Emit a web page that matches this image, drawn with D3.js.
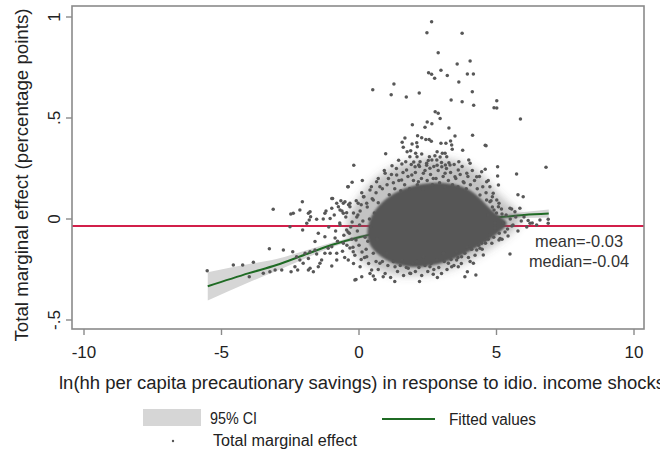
<!DOCTYPE html>
<html><head><meta charset="utf-8">
<script src="https://cdn.jsdelivr.net/npm/d3@7"></script>
<style>html,body{margin:0;padding:0;background:#fff;}svg{display:block;font-family:"Liberation Sans",Arial,sans-serif;}</style>
</head><body><svg id="c" width="660" height="453"></svg>
<script>
// ---- data ----
const xTicks = [-10, -5, 0, 5, 10];
const xTickLabels = ["-10", "-5", "0", "5", "10"];
const yTicks = [-0.5, 0, 0.5, 1];
const yTickLabels = ["-.5", "0", ".5", "1"];
const meanLine = -0.035;
const statLabels = ["mean=-0.03", "median=-0.04"];
const fitX  = [-5.5, -4, -3, -2, -1, 0, 1, 2, 3, 4, 5, 6, 6.9];
const fitY  = [-0.333, -0.268, -0.228, -0.178, -0.129, -0.090, -0.060, -0.037, -0.020, -0.005, 0.007, 0.020, 0.027];
const ciLo  = [-0.403, -0.313, -0.258, -0.198, -0.141, -0.098, -0.067, -0.044, -0.027, -0.012, -0.003, 0.005, 0.007];
const ciHi  = [-0.263, -0.223, -0.198, -0.158, -0.117, -0.082, -0.053, -0.030, -0.013, 0.002, 0.017, 0.035, 0.047];
// outline of the fully inked core of the cloud and of its speckled surrounding zone
const coreOutline = [[0.25,-0.079],[0.40,0.020],[0.95,0.104],[1.67,0.158],[2.58,0.183],[3.49,0.178],[4.22,0.134],[4.69,0.059],[5.13,0.010],[5.49,-0.020],[5.13,-0.064],[4.58,-0.119],[3.85,-0.173],[3.13,-0.218],[2.22,-0.243],[1.42,-0.233],[0.84,-0.193],[0.42,-0.144]];
const haloOutline = [[-0.50,-0.030],[-0.25,0.060],[0.15,0.135],[0.60,0.205],[1.31,0.265],[2.22,0.300],[2.95,0.305],[3.67,0.285],[4.33,0.240],[4.76,0.175],[5.13,0.110],[5.60,0.060],[5.95,0.015],[5.80,-0.040],[5.31,-0.095],[4.76,-0.145],[4.04,-0.205],[3.31,-0.250],[2.40,-0.280],[1.49,-0.280],[0.76,-0.260],[0.15,-0.220],[-0.35,-0.140]];
const effX = [2.64,2.47,3.75,2.88,3.57,4.04,2.53,2.64,2.75,2.98,3.21,3.94,4.16,3.63,1.27,0.50,1.17,1.72,2.19,4.12,3.35,3.75,4.17,5.01,4.91,5.01,5.87,2.77,2.88,2.95,2.48,2.65,1.94,2.40,3.27,3.49,4.13,1.67,2.13,2.28,2.43,2.55,1.57,1.93,2.10,2.12,2.63,2.98,3.16,3.33,1.61,1.75,1.88,3.37,3.39,4.59,0.97,2.84,3.03,3.13,2.06,2.28,2.11,3.77,-0.19,1.20,1.44,1.56,1.70,1.85,1.99,2.17,2.22,2.56,2.65,2.76,2.95,3.19,3.14,3.27,2.46,2.84,3.63,3.99,4.59,5.04,
 -0.25,-0.41,5.73,6.80,5.78,5.97,5.07,5.04,-0.96,4.62,4.76,5.09,5.49,4.08,4.28,4.40,3.94,4.25,3.85,2.70,3.61,4.58,4.76,5.09,5.49,5.67,5.85,6.15,6.58,6.88,6.22,6.46,6.88,
 -0.11,0.10,0.52,0.58,0.88,1.85,4.16,4.04,3.37,3.55,4.83,5.13,
 -5.52,-4.57,-4.23,-3.84,-3.99,-3.48,-3.24,-3.05,-2.81,-3.26,-2.75,-2.41,-2.47,-2.23,-2.03,-1.84,-1.66,-1.48,-1.36,-1.24,-1.12,-1.96,-1.78,-1.60,-3.12,-2.48,-2.15,-2.06,-1.84,-1.76,-1.54,-1.24,-0.99,-0.99,-0.75,-2.51,-1.90,-2.05,-1.48,-1.24,-1.60,-2.27,-2.15,-2.33,-1.84,-1.78,-1.54,-1.42,-1.05,-0.99,-0.81,-0.39,-0.57,-0.45,-0.15,0.12,-0.51,-0.33,-2.39,-1.78,-1.81,-1.30,-1.05,-0.69,-0.45,
 0.64,0.76,0.95,1.07,1.25,1.37,1.55,1.73,1.92,2.04,2.16,2.34,2.46,2.58,2.70,2.83,3.01,3.13,3.31,3.49,3.61,3.79,3.92,4.04,4.28,4.46,4.64,4.76,4.88,5.01,5.07,4.64,4.40,0.40,0.16,-0.03,-0.33,-0.57,-0.81,0.28,0.52,
 -0.99,-0.81,-0.57,-0.39,-0.21,0.04,0.28,0.46,0.76,1.01,1.31,1.55,1.79,2.10,2.34,2.58,2.83,3.07,3.25,3.55,3.73,3.92,4.46,4.52,
 4.95,5.31,5.56,5.20,4.91,5.42,4.69,-0.25,-0.40,-0.11,-0.33,0.11,-0.04,-0.69,-0.87];
const effY = [0.977,0.922,0.919,0.823,0.767,0.782,0.724,0.716,0.697,0.736,0.711,0.718,0.718,0.678,0.668,0.640,0.615,0.604,0.624,0.630,0.589,0.581,0.563,0.586,0.551,0.550,0.495,0.531,0.523,0.497,0.480,0.472,0.467,0.454,0.450,0.411,0.414,0.401,0.412,0.402,0.393,0.393,0.380,0.371,0.378,0.358,0.385,0.375,0.375,0.386,0.355,0.333,0.338,0.366,0.345,0.365,0.323,0.333,0.325,0.325,0.325,0.322,0.308,0.340,0.266,0.264,0.291,0.272,0.284,0.308,0.282,0.267,0.284,0.308,0.292,0.313,0.307,0.308,0.267,0.279,0.266,0.266,0.284,0.292,0.246,0.259,
 0.182,0.160,0.223,0.256,0.120,0.110,0.168,0.213,0.102,0.363,0.086,0.078,-0.173,-0.149,-0.153,-0.145,-0.261,-0.277,-0.286,-0.274,-0.236,-0.104,-0.079,-0.104,0.053,0.036,0.053,-0.008,-0.005,-0.001,-0.021,-0.030,-0.021,
 -0.299,-0.286,-0.282,-0.299,-0.286,-0.269,-0.219,-0.211,-0.236,-0.203,-0.120,-0.096,
 -0.256,-0.228,-0.228,-0.214,-0.286,-0.269,-0.261,-0.252,-0.252,-0.147,-0.153,-0.162,-0.261,-0.252,-0.219,-0.252,-0.261,-0.236,-0.203,-0.170,-0.145,-0.170,-0.162,-0.153,0.048,0.025,0.045,0.086,0.028,0.011,-0.001,0.028,0.053,0.102,0.061,-0.038,-0.021,-0.054,-0.071,-0.088,-0.112,-0.187,-0.203,-0.236,-0.195,-0.244,-0.173,-0.219,-0.170,-0.233,-0.203,0.160,0.078,-0.054,-0.302,0.190,0.086,0.078,0.028,0.036,-0.005,0.000,0.003,0.045,0.031,
 0.185,0.160,0.226,0.201,0.180,0.218,0.193,0.243,0.218,0.259,0.185,0.226,0.276,0.251,0.201,0.292,0.259,0.226,0.267,0.209,0.243,0.185,0.226,0.276,0.209,0.234,0.185,0.160,0.127,0.094,0.061,0.094,0.119,0.144,0.110,0.078,0.061,0.028,0.078,0.078,0.094,
 -0.137,-0.170,-0.120,-0.203,-0.162,-0.236,-0.187,-0.252,-0.219,-0.170,-0.236,-0.203,-0.244,-0.211,-0.187,-0.236,-0.203,-0.170,-0.219,-0.162,-0.187,-0.137,-0.120,-0.178,
 -0.045,-0.064,-0.035,0.025,0.045,-0.084,0.020,-0.015,-0.064,-0.104,-0.144,-0.163,0.020,-0.030,-0.094];
// estimated positions of points in the speckled ring around the core
const ringPts = [[0.45,0.16],[0.62,0.13],[0.70,0.20],[0.85,0.15],[0.92,0.24],[1.02,0.17],[1.10,0.12],[1.18,0.22],[1.30,0.15],[1.36,0.25],[1.45,0.19],[1.52,0.14],[1.60,0.23],[1.66,0.17],[1.78,0.21],[1.84,0.15],[1.90,0.27],[1.98,0.19],[2.05,0.23],[2.12,0.17],[2.20,0.26],[2.27,0.20],[2.33,0.15],[2.40,0.24],[2.48,0.19],[2.52,0.29],[2.60,0.22],[2.67,0.17],[2.72,0.26],[2.80,0.20],[2.88,0.24],[2.93,0.18],[3.00,0.28],[3.06,0.21],[3.12,0.16],[3.18,0.25],[3.25,0.19],[3.33,0.23],[3.40,0.17],[3.46,0.27],[3.52,0.20],[3.60,0.16],[3.68,0.22],[3.75,0.26],[3.82,0.18],[3.90,0.15],[3.96,0.21],[4.05,0.17],[4.12,0.24],[4.20,0.19],[4.30,0.15],[4.38,0.21],[4.50,0.16],[4.62,0.13],[4.70,0.19],[4.85,0.11],
 [-0.70,-0.02],[-0.62,0.04],[-0.55,-0.08],[-0.48,0.01],[-0.44,-0.13],[-0.38,0.07],[-0.30,-0.04],[-0.26,-0.10],[-0.20,0.03],[-0.15,-0.18],[-0.10,0.09],[-0.06,-0.06],[0.00,-0.13],[0.04,0.04],[0.08,-0.20],[0.14,-0.01],[0.18,0.11],[0.22,-0.09],[0.26,-0.15],[0.30,0.06],[0.35,-0.22],[0.38,0.00],[0.42,-0.04],[0.48,0.10],[0.52,-0.17],[0.56,0.03],[0.62,-0.21],[0.66,-0.10],[0.70,0.08],[-0.85,-0.06],[-0.90,0.02],[-0.60,-0.16],[-0.20,-0.22],[0.10,0.13],
 [-0.78,-0.11],[-0.66,0.09],[-0.52,-0.19],[-0.35,-0.07],[-0.22,-0.14],[-0.08,0.01],[0.02,-0.03],[0.08,0.07],[0.20,-0.19],[0.32,-0.11],[-1.10,-0.04],[-1.20,0.04],
 [0.70,-0.25],[0.85,-0.21],[0.95,-0.27],[1.05,-0.23],[1.15,-0.29],[1.25,-0.21],[1.40,-0.26],[1.50,-0.23],[1.62,-0.28],[1.72,-0.24],[1.88,-0.27],[1.95,-0.22],[2.05,-0.26],[2.18,-0.24],[2.28,-0.28],[2.40,-0.23],[2.50,-0.26],[2.62,-0.22],[2.72,-0.25],[2.90,-0.24],[3.00,-0.27],[3.10,-0.21],[3.20,-0.25],[3.35,-0.20],[3.45,-0.23],[3.60,-0.19],[3.72,-0.22],[3.85,-0.17],[3.98,-0.19],[4.10,-0.15],[4.22,-0.18],[4.35,-0.13],[4.48,-0.15],[4.60,-0.12],[4.70,-0.10],[0.40,-0.27],[1.30,-0.31],[2.20,-0.31],[2.85,-0.29],
 [4.85,0.06],[4.95,-0.02],[5.00,0.03],[5.10,-0.07],[5.18,0.05],[5.25,-0.02],[5.35,0.02],[5.40,-0.05],[5.50,0.00],[5.60,-0.03],[5.70,0.01],[5.78,-0.06],[5.90,-0.01],[6.00,0.01],[6.10,-0.04],[4.90,-0.09],[5.20,-0.10],[5.55,0.05],[4.80,0.09],[6.30,-0.02]];

// ---- drawing ----
const svg = d3.select("#c");
const frame = {l: 72, r: 644, t: 6, b: 329};
const x = d3.scaleLinear().domain([-10, 10]).range([84, 634]);
const y = d3.scaleLinear().domain([-0.5, 1]).range([320, 17]);
const ink = "#575757";

svg.append("rect").attr("width", 660).attr("height", 453).attr("fill", "#fff");
const defs = svg.append("defs");
defs.append("clipPath").attr("id", "pc").append("rect")
  .attr("x", frame.l).attr("y", frame.t).attr("width", frame.r - frame.l).attr("height", frame.b - frame.t);
defs.append("filter").attr("id", "soft").attr("x", "-20%").attr("y", "-20%").attr("width", "140%").attr("height", "140%")
  .append("feGaussianBlur").attr("stdDeviation", 1.3);
defs.append("filter").attr("id", "soft2").attr("x", "-20%").attr("y", "-20%").attr("width", "140%").attr("height", "140%")
  .append("feGaussianBlur").attr("stdDeviation", 4);
const plot = svg.append("g").attr("clip-path", "url(#pc)");

// mean reference line
plot.append("line").attr("x1", frame.l).attr("x2", frame.r)
  .attr("y1", y(meanLine)).attr("y2", y(meanLine))
  .attr("stroke", "#d21f4a").attr("stroke-width", 2);

// CI band and fitted line
const fit = fitX.map((v, i) => ({x: v, y: fitY[i], lo: ciLo[i], hi: ciHi[i]}));
plot.append("path").datum(fit)
  .attr("d", d3.area().x(d => x(d.x)).y0(d => y(d.lo)).y1(d => y(d.hi)).curve(d3.curveMonotoneX))
  .attr("fill", "#d6d6d6");
plot.append("path").datum(fit)
  .attr("d", d3.line().x(d => x(d.x)).y(d => y(d.y)).curve(d3.curveMonotoneX))
  .attr("fill", "none").attr("stroke", "#1f6b24").attr("stroke-width", 2);

// cloud density zones
const closed = d3.line().x(d => x(d[0])).y(d => y(d[1])).curve(d3.curveBasisClosed);
plot.append("path").attr("d", closed(haloOutline)).attr("fill", ink).attr("fill-opacity", 0.36).attr("filter", "url(#soft2)");
plot.append("path").attr("d", closed(coreOutline)).attr("fill", ink).attr("filter", "url(#soft)");

// individual points
const pts = effX.map((v, i) => [v, effY[i]]).concat(ringPts);
plot.selectAll("circle.p").data(pts).enter().append("circle")
  .attr("class", "p").attr("cx", d => x(d[0])).attr("cy", d => y(d[1]))
  .attr("r", 1.75).attr("fill", ink);

// frame
svg.append("rect").attr("x", frame.l).attr("y", frame.t)
  .attr("width", frame.r - frame.l).attr("height", frame.b - frame.t)
  .attr("fill", "none").attr("stroke", "#8a8a8a").attr("stroke-width", 1.6);

// axes ticks
const tcol = "#8a8a8a";
svg.selectAll("line.xt").data(xTicks).enter().append("line")
  .attr("x1", d => x(d)).attr("x2", d => x(d)).attr("y1", frame.b).attr("y2", frame.b + 6)
  .attr("stroke", tcol).attr("stroke-width", 1.4);
svg.selectAll("text.xl").data(xTicks).enter().append("text")
  .attr("x", d => x(d)).attr("y", 358).attr("text-anchor", "middle")
  .attr("font-size", 17).attr("fill", "#222").text((d, i) => xTickLabels[i]);
svg.selectAll("line.yt").data(yTicks).enter().append("line")
  .attr("x1", frame.l - 6).attr("x2", frame.l).attr("y1", d => y(d)).attr("y2", d => y(d))
  .attr("stroke", tcol).attr("stroke-width", 1.4);
svg.selectAll("text.yl").data(yTicks).enter().append("text")
  .attr("transform", d => `translate(60,${y(d)}) rotate(-90)`).attr("text-anchor", "middle")
  .attr("font-size", 17).attr("fill", "#222").text((d, i) => yTickLabels[i]);

// titles
svg.append("text").attr("transform", "translate(28,175) rotate(-90)").attr("text-anchor", "middle")
  .attr("font-size", 18).attr("fill", "#222").attr("textLength", 333).attr("lengthAdjust", "spacingAndGlyphs")
  .text("Total marginal effect (percentage points)");
svg.append("text").attr("x", 59).attr("y", 389)
  .attr("font-size", 18).attr("fill", "#222").attr("textLength", 606).attr("lengthAdjust", "spacingAndGlyphs")
  .text("ln(hh per capita precautionary savings) in response to idio. income shocks");

// mean / median labels
svg.selectAll("text.st").data(statLabels).enter().append("text")
  .attr("x", 579).attr("y", (d, i) => 247 + i * 20).attr("text-anchor", "middle")
  .attr("font-size", 17).attr("fill", "#333")
  .attr("textLength", (d, i) => i ? 100 : 88).attr("lengthAdjust", "spacingAndGlyphs")
  .text(d => d);

// legend
const lg = svg.append("g");
lg.append("rect").attr("x", 143).attr("y", 409).attr("width", 58).attr("height", 17).attr("fill", "#d6d6d6");
lg.append("text").attr("x", 210).attr("y", 424).attr("font-size", 16).attr("fill", "#222")
  .attr("textLength", 47).attr("lengthAdjust", "spacingAndGlyphs").text("95% CI");
lg.append("line").attr("x1", 382).attr("x2", 435).attr("y1", 419).attr("y2", 419)
  .attr("stroke", "#1f6b24").attr("stroke-width", 2);
lg.append("text").attr("x", 449).attr("y", 425).attr("font-size", 16).attr("fill", "#222")
  .attr("textLength", 87).attr("lengthAdjust", "spacingAndGlyphs").text("Fitted values");
lg.append("circle").attr("cx", 173).attr("cy", 441).attr("r", 1.2).attr("fill", ink);
lg.append("text").attr("x", 213).attr("y", 446).attr("font-size", 16).attr("fill", "#222")
  .attr("textLength", 144).attr("lengthAdjust", "spacingAndGlyphs").text("Total marginal effect");
</script></body></html>
